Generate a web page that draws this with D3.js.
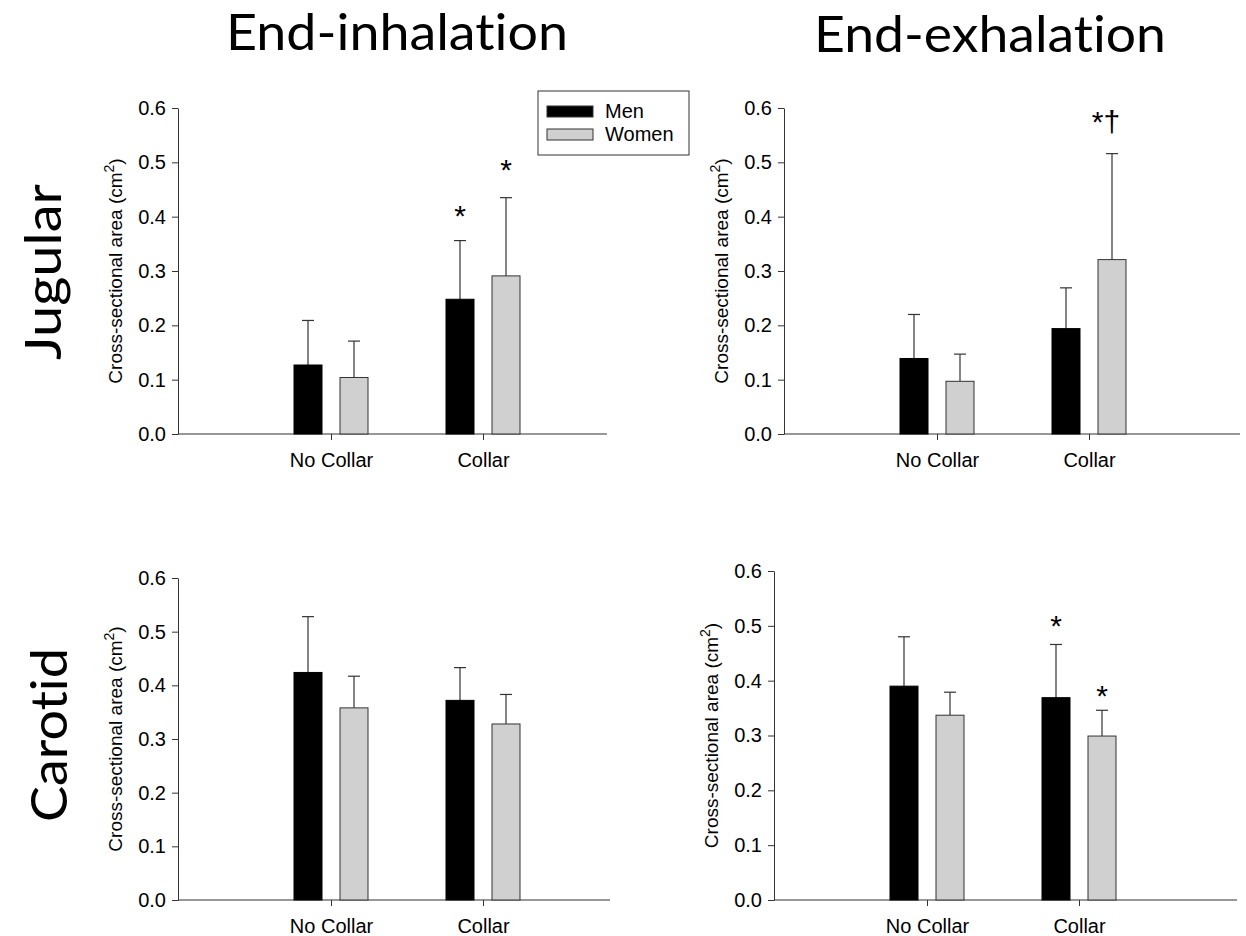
<!DOCTYPE html>
<html>
<head>
<meta charset="utf-8">
<script src="https://cdn.jsdelivr.net/npm/d3@7"></script>
<style>
  body { margin: 0; background: #fff; }
  svg { display: block; }
  text { fill: #000; font-variant-ligatures: none; }
</style>
</head>
<body>
<div id="chart"></div>
<script>
// --------------- Data ---------------
const categories = ["No Collar", "Collar"];
const groups = ["Men", "Women"];
const yTicks = [0, 0.1, 0.2, 0.3, 0.4, 0.5, 0.6];

// jugular, end-inhalation
const jugInhMen = [0.127, 0.248];
const jugInhMenSd = [0.082, 0.108];
const jugInhWomen = [0.104, 0.291];
const jugInhWomenSd = [0.067, 0.144];
const jugInhMarks = [["", ""], ["*", "*"]];
const jugInhMarkY = [[0, 0], [0.414, 0.499]];

// jugular, end-exhalation
const jugExhMen = [0.139, 0.194];
const jugExhMenSd = [0.081, 0.075];
const jugExhWomen = [0.097, 0.321];
const jugExhWomenSd = [0.050, 0.195];
const jugExhMarks = [["", ""], ["", "*\u2020"]];
const jugExhMarkY = [[0, 0], [0, 0.587]];

// carotid, end-inhalation
const carInhMen = [0.424, 0.372];
const carInhMenSd = [0.104, 0.061];
const carInhWomen = [0.358, 0.328];
const carInhWomenSd = [0.059, 0.055];
const carInhMarks = [["", ""], ["", ""]];
const carInhMarkY = [[0, 0], [0, 0]];

// carotid, end-exhalation
const carExhMen = [0.390, 0.369];
const carExhMenSd = [0.090, 0.097];
const carExhWomen = [0.337, 0.299];
const carExhWomenSd = [0.042, 0.047];
const carExhMarks = [["", ""], ["*", "*"]];
const carExhMarkY = [[0, 0], [0.512, 0.385]];

// --------------- Layout ---------------
const WIDTH = 1246;
const HEIGHT = 936;
const AXIS_COLOR = "#333";
const MEN_COLOR = "#000";
const WOMEN_COLOR = "#d0d0d0";
const FONT = "'Liberation Sans', Arial, sans-serif";
const TITLE_FONT = "Lato, 'Open Sans', sans-serif";

// panel frames: x of y-axis, right end of x-axis, y of 0.6 and 0.0
const panels = [
  { x0: 178, x1: 607, yTop: 108, yBot: 434, men: jugInhMen, menSd: jugInhMenSd, women: jugInhWomen, womenSd: jugInhWomenSd, marks: jugInhMarks, markY: jugInhMarkY, legend: true },
  { x0: 784, x1: 1240, yTop: 108, yBot: 434, men: jugExhMen, menSd: jugExhMenSd, women: jugExhWomen, womenSd: jugExhWomenSd, marks: jugExhMarks, markY: jugExhMarkY },
  { x0: 178, x1: 610, yTop: 578, yBot: 900, men: carInhMen, menSd: carInhMenSd, women: carInhWomen, womenSd: carInhWomenSd, marks: carInhMarks, markY: carInhMarkY },
  { x0: 774, x1: 1237, yTop: 571, yBot: 900, men: carExhMen, menSd: carExhMenSd, women: carExhWomen, womenSd: carExhWomenSd, marks: carExhMarks, markY: carExhMarkY }
];

const svg = d3.select("#chart")
  .append("svg")
  .attr("width", WIDTH)
  .attr("height", HEIGHT);

// column and row titles
svg.append("text")
  .attr("x", 397).attr("y", 50)
  .attr("text-anchor", "middle")
  .attr("textLength", 342).attr("lengthAdjust", "spacingAndGlyphs")
  .style("font-family", TITLE_FONT).style("font-size", "50px")
  .text("End-inhalation");

svg.append("text")
  .attr("x", 990).attr("y", 52)
  .attr("text-anchor", "middle")
  .attr("textLength", 352).attr("lengthAdjust", "spacingAndGlyphs")
  .style("font-family", TITLE_FONT).style("font-size", "50px")
  .text("End-exhalation");

svg.append("text")
  .attr("transform", "translate(61,272) rotate(-90)")
  .attr("text-anchor", "middle")
  .attr("textLength", 176).attr("lengthAdjust", "spacingAndGlyphs")
  .style("font-family", TITLE_FONT).style("font-size", "50px")
  .text("Jugular");

svg.append("text")
  .attr("transform", "translate(67,735) rotate(-90)")
  .attr("text-anchor", "middle")
  .attr("textLength", 174).attr("lengthAdjust", "spacingAndGlyphs")
  .style("font-family", TITLE_FONT).style("font-size", "50px")
  .text("Carotid");

// --------------- Panels ---------------
panels.forEach(function(p) {
  const g = svg.append("g");

  const y = d3.scaleLinear().domain([0, 0.6]).range([p.yBot, p.yTop]);
  const x = d3.scalePoint().domain(categories).range([p.x0 + 153, p.x0 + 305]);
  const xg = d3.scaleBand().domain(groups).range([-37, 37]).paddingInner(18 / 46);

  // y axis
  const yAxis = g.append("g")
    .attr("transform", `translate(${p.x0},0)`)
    .call(d3.axisLeft(y).tickValues(yTicks).tickFormat(d3.format(".1f")).tickSize(6).tickSizeOuter(0).tickPadding(6));
  yAxis.select(".domain").attr("stroke", AXIS_COLOR);
  yAxis.selectAll(".tick line").attr("stroke", AXIS_COLOR);
  yAxis.selectAll(".tick text").style("font-family", FONT).style("font-size", "20px").attr("fill", "#000");

  // x axis
  const xAxis = g.append("g")
    .attr("transform", `translate(0,${p.yBot})`)
    .call(d3.axisBottom(x).tickSize(6).tickSizeOuter(0).tickPadding(13));
  xAxis.select(".domain").remove();
  xAxis.selectAll(".tick line").attr("stroke", AXIS_COLOR);
  xAxis.selectAll(".tick text").style("font-family", FONT).style("font-size", "20px").attr("fill", "#000");
  g.append("line")
    .attr("x1", p.x0).attr("x2", p.x1)
    .attr("y1", p.yBot).attr("y2", p.yBot)
    .attr("stroke", AXIS_COLOR).attr("stroke-width", 1.2);

  // y axis label
  const lab = g.append("text")
    .attr("transform", `translate(${p.x0 - 56},${(p.yTop + p.yBot) / 2}) rotate(-90)`)
    .attr("text-anchor", "middle")
    .style("font-family", FONT).style("font-size", "19px");
  lab.append("tspan").text("Cross-sectional area (cm");
  lab.append("tspan").attr("baseline-shift", "super").style("font-size", "14px").text("2");
  lab.append("tspan").text(")");

  // bars, error bars and marks
  const rows = categories.map(function(c, i) {
    return [
      { cat: c, grp: "Men", v: p.men[i], sd: p.menSd[i], mark: p.marks[i][0], my: p.markY[i][0] },
      { cat: c, grp: "Women", v: p.women[i], sd: p.womenSd[i], mark: p.marks[i][1], my: p.markY[i][1] }
    ];
  }).flat();

  const bar = g.append("g").selectAll("g")
    .data(rows)
    .enter()
    .append("g")
    .attr("transform", d => `translate(${x(d.cat) + xg(d.grp)},0)`);

  const cx = xg.bandwidth() / 2;

  bar.append("line")
    .attr("x1", cx).attr("x2", cx)
    .attr("y1", d => y(d.v)).attr("y2", d => y(d.v + d.sd))
    .attr("stroke", AXIS_COLOR).attr("stroke-width", 1.2);
  bar.append("line")
    .attr("x1", cx - 6).attr("x2", cx + 6)
    .attr("y1", d => y(d.v + d.sd)).attr("y2", d => y(d.v + d.sd))
    .attr("stroke", AXIS_COLOR).attr("stroke-width", 1.2);

  bar.append("rect")
    .attr("x", 0)
    .attr("width", xg.bandwidth())
    .attr("y", d => y(d.v))
    .attr("height", d => y(0) - y(d.v))
    .attr("fill", d => d.grp == "Men" ? MEN_COLOR : WOMEN_COLOR)
    .attr("stroke", d => d.grp == "Men" ? MEN_COLOR : AXIS_COLOR)
    .attr("stroke-width", 1);

  bar.filter(d => d.mark != "")
    .append("text")
    .attr("x", d => d.mark.length > 1 ? cx - 6 : cx)
    .attr("y", d => y(d.my) + 17)
    .attr("text-anchor", "middle")
    .style("font-family", FONT).style("font-size", "30px")
    .text(d => d.mark);

  // legend
  if (p.legend) {
    const lg = g.append("g").attr("transform", "translate(538,91)");
    lg.append("rect")
      .attr("width", 151).attr("height", 64)
      .attr("fill", "#fff").attr("stroke", AXIS_COLOR).attr("stroke-width", 1);
    const item = lg.selectAll(".item")
      .data(groups)
      .enter()
      .append("g")
      .attr("class", "item")
      .attr("transform", (d, i) => `translate(9,${15 + i * 23})`);
    item.append("rect")
      .attr("width", 46).attr("height", 11)
      .attr("fill", d => d == "Men" ? MEN_COLOR : WOMEN_COLOR)
      .attr("stroke", AXIS_COLOR).attr("stroke-width", 1);
    item.append("text")
      .attr("x", 58).attr("y", 12)
      .style("font-family", FONT).style("font-size", "20px")
      .text(d => d);
  }
});
</script>
</body>
</html>
